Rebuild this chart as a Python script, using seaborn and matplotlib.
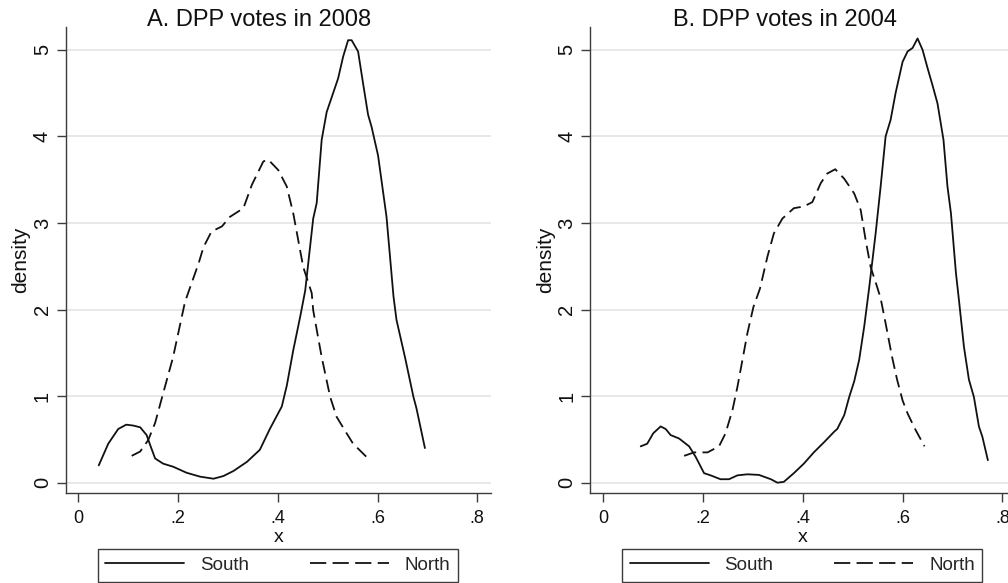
import matplotlib
matplotlib.use("Agg")
import matplotlib.pyplot as plt
import seaborn as sns
import pandas as pd
from matplotlib.lines import Line2D

sns.set_theme(style="white")
plt.rcParams["font.family"] = ["Liberation Sans", "DejaVu Sans"]

# ---- data (kernel density curves) ----
titles = ["A. DPP votes in 2008", "B. DPP votes in 2004"]
series_names = ["South", "North"]
x_ticks = [0, 0.2, 0.4, 0.6, 0.8]
x_tick_labels = ["0", ".2", ".4", ".6", ".8"]
y_ticks = [0, 1, 2, 3, 4, 5]

a_south_x = [0.041, 0.06, 0.08, 0.096, 0.11, 0.124, 0.137, 0.145, 0.154, 0.170, 0.19, 0.217, 0.244,
             0.271, 0.291, 0.311, 0.338, 0.364, 0.384, 0.408, 0.418, 0.431, 0.445, 0.455, 0.471,
             0.478, 0.488, 0.498, 0.511, 0.521, 0.531, 0.541, 0.548, 0.561, 0.571, 0.581, 0.588,
             0.601, 0.618, 0.632, 0.638, 0.655, 0.672, 0.678, 0.695]
a_south_y = [0.20, 0.45, 0.62, 0.67, 0.66, 0.64, 0.55, 0.42, 0.28, 0.22, 0.185, 0.115, 0.07,
             0.046, 0.077, 0.135, 0.24, 0.38, 0.62, 0.88, 1.12, 1.53, 1.92, 2.22, 3.05,
             3.23, 3.96, 4.28, 4.50, 4.67, 4.92, 5.11, 5.11, 4.98, 4.61, 4.25, 4.11,
             3.78, 3.07, 2.15, 1.88, 1.45, 0.99, 0.86, 0.40]

a_north_x = [0.107, 0.124, 0.140, 0.154, 0.170, 0.190, 0.214, 0.241, 0.251, 0.267, 0.288, 0.304,
             0.331, 0.348, 0.371, 0.381, 0.401, 0.418, 0.431, 0.441, 0.451, 0.468, 0.471, 0.488,
             0.505, 0.518, 0.538, 0.551, 0.581]
a_north_y = [0.31, 0.36, 0.49, 0.69, 1.03, 1.45, 2.09, 2.53, 2.72, 2.90, 2.96, 3.07,
             3.17, 3.44, 3.71, 3.73, 3.61, 3.42, 3.11, 2.80, 2.49, 2.19, 1.99, 1.45,
             0.99, 0.76, 0.57, 0.45, 0.28]

b_south_x = [0.075, 0.088, 0.100, 0.115, 0.125, 0.135, 0.152, 0.172, 0.185, 0.202, 0.215, 0.235,
             0.252, 0.269, 0.289, 0.312, 0.336, 0.349, 0.362, 0.382, 0.402, 0.422, 0.443, 0.463,
             0.469, 0.483, 0.493, 0.503, 0.513, 0.523, 0.533, 0.546, 0.556, 0.566, 0.576, 0.586,
             0.600, 0.610, 0.620, 0.630, 0.640, 0.650, 0.660, 0.670, 0.682, 0.690, 0.697, 0.707,
             0.713, 0.723, 0.733, 0.743, 0.753, 0.760, 0.771]
b_south_y = [0.42, 0.45, 0.57, 0.65, 0.62, 0.55, 0.51, 0.42, 0.30, 0.11, 0.085, 0.04,
             0.04, 0.085, 0.097, 0.09, 0.04, 0.0, 0.01, 0.11, 0.22, 0.35, 0.47, 0.59,
             0.62, 0.78, 0.99, 1.17, 1.42, 1.80, 2.25, 2.88, 3.42, 4.00, 4.19, 4.50,
             4.86, 4.98, 5.02, 5.13, 5.00, 4.79, 4.59, 4.38, 3.96, 3.42, 3.11, 2.42,
             2.11, 1.57, 1.19, 0.99, 0.65, 0.53, 0.26]

b_north_x = [0.162, 0.182, 0.209, 0.232, 0.245, 0.259, 0.269, 0.279, 0.289, 0.301, 0.314, 0.329,
             0.342, 0.359, 0.382, 0.402, 0.419, 0.436, 0.449, 0.465, 0.483, 0.503, 0.516, 0.526,
             0.536, 0.549, 0.556, 0.566, 0.579, 0.589, 0.600, 0.610, 0.626, 0.644]
b_north_y = [0.31, 0.35, 0.35, 0.42, 0.57, 0.84, 1.11, 1.42, 1.73, 2.03, 2.24, 2.61,
             2.88, 3.05, 3.17, 3.19, 3.24, 3.46, 3.57, 3.62, 3.51, 3.34, 3.15, 2.80,
             2.49, 2.26, 2.13, 1.84, 1.45, 1.19, 0.95, 0.80, 0.61, 0.42]

panels = [
    (titles[0], a_south_x, a_south_y, a_north_x, a_north_y),
    (titles[1], b_south_x, b_south_y, b_north_x, b_north_y),
]

# ---- layout ----
W, H = 1008, 583
fig = plt.figure(figsize=(W / 100, H / 100), dpi=100)
axes_px = [(65.7, 90, 425.3, 465.7), (590.3, 90, 425.3, 465.7)]
xlims = [(-0.0253, 0.8275), (-0.0261, 0.8266)]
legend_px = [(97.7, 1.5, 360.3, 33), (622.3, 1.5, 360.0, 33)]
title_x = [259, 785]

ink = "#111111"
axis_col = "#3c3c3c"
grid_col = "#e6e6e6"
dash = (7, 3.5)

for i, (title, sx, sy, nx, ny) in enumerate(panels):
    l, b, w, h = axes_px[i]
    ax = fig.add_axes([l / W, b / H, w / W, h / H])
    ax.set_facecolor("white")
    ax.set_axisbelow(True)
    for yt in y_ticks:
        ax.axhline(yt, color=grid_col, lw=1.3, zorder=0)

    sdf = pd.DataFrame({"x": sx, "density": sy})
    ndf = pd.DataFrame({"x": nx, "density": ny})
    sns.lineplot(data=sdf, x="x", y="density", ax=ax, color=ink, lw=1.3,
                 sort=False, estimator=None)
    sns.lineplot(data=ndf, x="x", y="density", ax=ax, color=ink, lw=1.3,
                 sort=False, estimator=None)
    ax.lines[-1].set_dashes(dash)

    ax.set_xlim(*xlims[i])
    ax.set_ylim(-0.119, 5.259)
    ax.set_xticks(x_ticks)
    ax.set_xticklabels(x_tick_labels)
    ax.set_yticks(y_ticks)
    ax.set_yticklabels([str(v) for v in y_ticks], rotation=90, va="center")

    for side in ["top", "right"]:
        ax.spines[side].set_visible(False)
    for side in ["left", "bottom"]:
        ax.spines[side].set_color(axis_col)
        ax.spines[side].set_linewidth(1.0)
    ax.tick_params(axis="both", which="major", direction="out", length=6.5, width=1.0,
                   color=axis_col, labelcolor=ink, pad=6, left=True, bottom=True)
    ax.tick_params(axis="x", labelsize=13)
    ax.tick_params(axis="y", labelsize=14.5, pad=3.5)
    ax.set_xlabel("x", fontsize=14, color=ink, labelpad=1)
    ax.set_ylabel("density", fontsize=15, color=ink, labelpad=2)

    fig.text(title_x[i] / W, 1 - 20 / H, title, ha="center", va="center",
             fontsize=17, color=ink)

    handles = [Line2D([], [], color=ink, lw=1.3),
               Line2D([], [], color=ink, lw=1.3, dashes=(9, 3.5))]
    lx, ly, lw_, lh = legend_px[i]
    leg = ax.legend(handles, series_names, loc="lower left",
                    bbox_to_anchor=(lx / W, ly / H, lw_ / W, lh / H),
                    bbox_transform=fig.transFigure, mode="expand", ncol=2,
                    fontsize=13.5, handlelength=4.2, handletextpad=0.85,
                    borderpad=0.4, borderaxespad=0, frameon=True, fancybox=False,
                    framealpha=1, edgecolor=axis_col)
    leg.get_frame().set_linewidth(1.0)

fig.savefig("out.png", dpi=100, facecolor="white")
